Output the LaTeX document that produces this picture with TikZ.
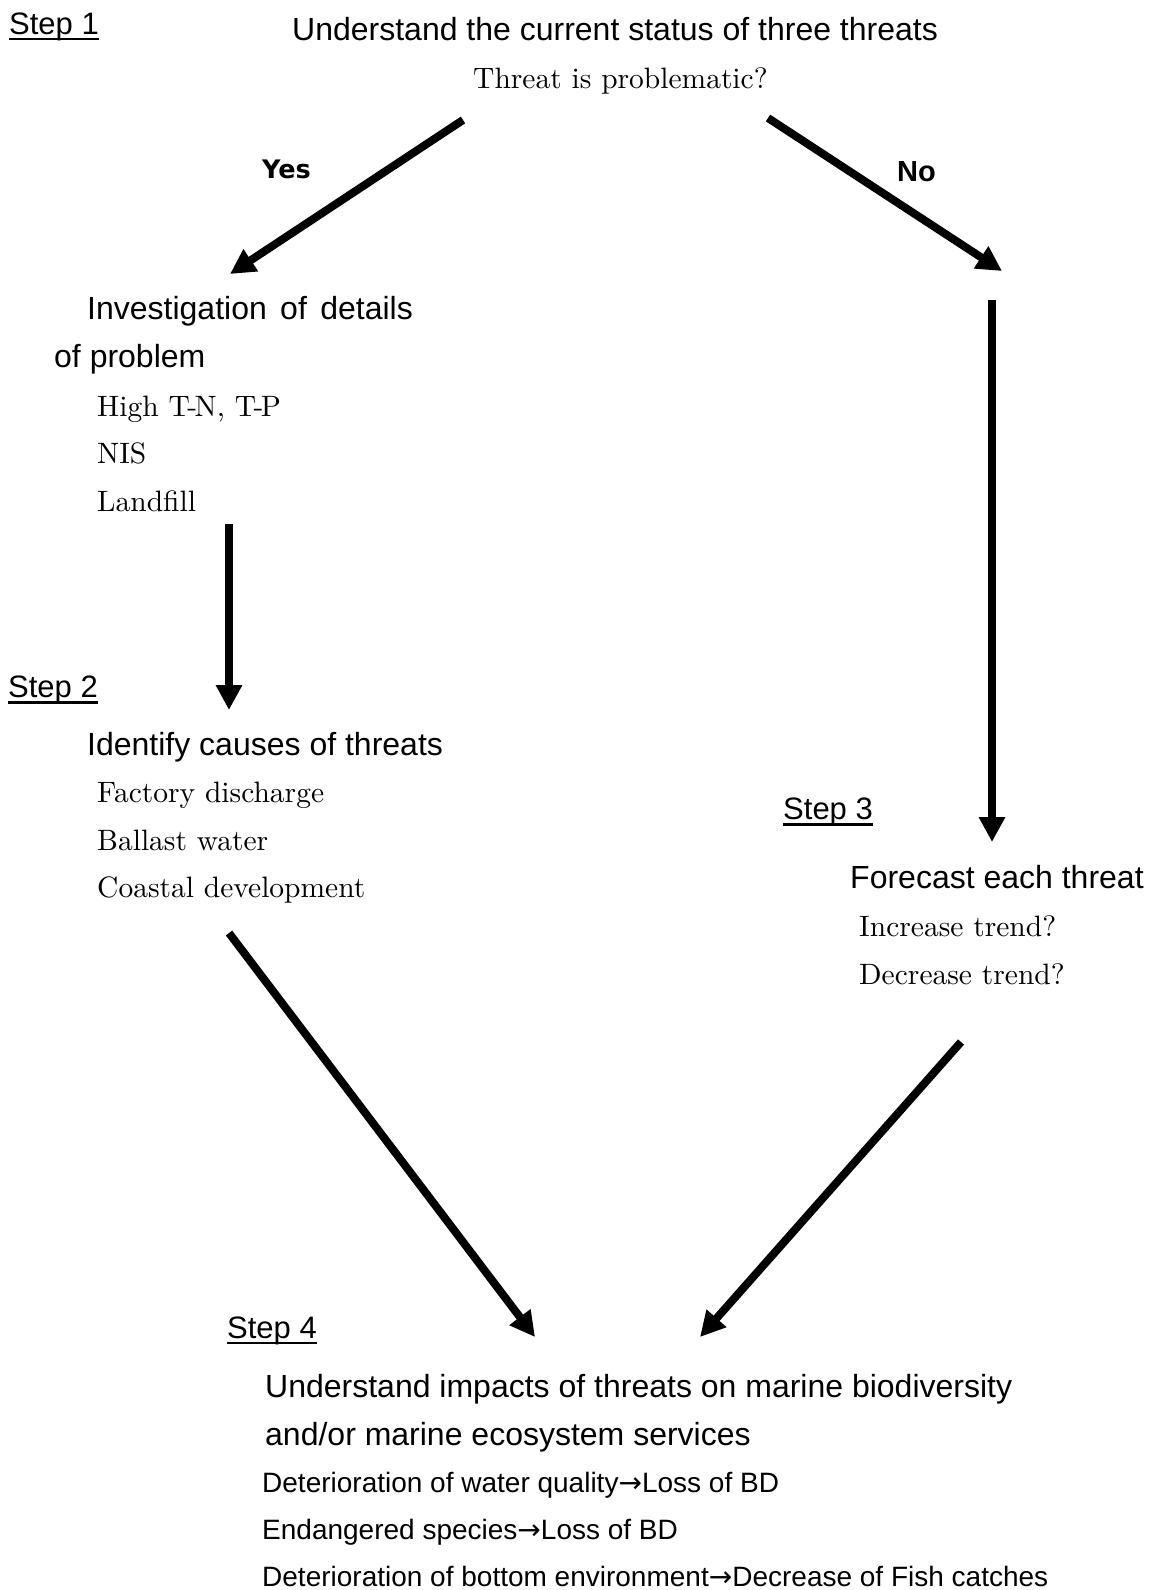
\documentclass[tikz,border=0pt]{standalone}
\usepackage{fontspec}
\newfontfamily\arialf{Liberation Sans}
\newfontfamily\dejavuf{DejaVu Sans}
\newfontfamily\cmf{lmroman10-regular}[Extension=.otf]
\usetikzlibrary{arrows.meta}
\newcommand{\rarr}{{\dejavuf →}}
\newcommand{\tdash}{\kern-2.5pt-\kern-2.5pt}
\tikzset{
  headtxt/.style={font=\arialf\fontsize{32}{32}\selectfont, anchor=base west, inner sep=0pt},
  itemtxt/.style={font=\cmf\fontsize{29.5}{29.5}\selectfont, anchor=base west, inner sep=0pt},
  steplbl/.style={font=\arialf\fontsize{31}{31}\selectfont, anchor=base west, inner sep=0pt},
  impacttxt/.style={font=\arialf\fontsize{28}{28}\selectfont, anchor=base west, inner sep=0pt},
  yestxt/.style={font=\dejavuf\bfseries\fontsize{25.5}{25.5}\selectfont, anchor=base west, inner sep=0pt},
  notxt/.style={font=\arialf\bfseries\fontsize{29}{29}\selectfont, anchor=base west, inner sep=0pt},
  flow/.style={line width=8pt, -{Triangle[length=25pt,width=25pt]}},
  uline/.style={line width=2.5pt},
}
\begin{document}
\begin{tikzpicture}[x=1pt,y=-1pt]
\useasboundingbox (0,0) rectangle (1149,1590);
% Step 1
\node[steplbl] (s1) at (9,34) {Step 1};
\draw[uline] ([yshift=-5pt]s1.base west) -- ([yshift=-5pt]s1.base east);
\node[headtxt] (h1) at (292,40) {Understand the current status of three threats};
\node[itemtxt] (q1) at (473,88) {Threat is problematic?};
\node[yestxt] (yes) at (262,178) {Yes};
\node[notxt] (no) at (897,181) {No};
% left branch
\node[headtxt] (inv1) at (87,319) {Investigation\hspace{4.5pt} of\hspace{4.5pt} details};
\node[headtxt] (inv2) at (54,367) {of problem};
\node[itemtxt] (i1) at (97,416) {High T\tdash N, T\tdash P};
\node[itemtxt] (i2) at (97,463) {NIS};
\node[itemtxt] (i3) at (97,511) {Landfill};
% Step 2
\node[steplbl] (s2) at (8,697) {Step 2};
\draw[uline] ([yshift=-5.5pt]s2.base west) -- ([yshift=-5.5pt]s2.base east);
\node[headtxt] (id) at (87,755) {Identify causes of threats};
\node[itemtxt] (c1) at (97,802) {Factory discharge};
\node[itemtxt] (c2) at (97,850) {Ballast water};
\node[itemtxt] (c3) at (97,897) {Coastal development};
% Step 3
\node[steplbl] (s3) at (783,819) {Step 3};
\draw[uline] ([yshift=-5.5pt]s3.base west) -- ([yshift=-5.5pt]s3.base east);
\node[headtxt] (fc) at (850,888) {Forecast each threat};
\node[itemtxt] (f1) at (859,936) {Increase trend?};
\node[itemtxt] (f2) at (859,984) {Decrease trend?};
% Step 4
\node[steplbl] (s4) at (227,1338) {Step 4};
\draw[uline] ([yshift=-5pt]s4.base west) -- ([yshift=-5pt]s4.base east);
\node[headtxt] (u1) at (265,1397) {Understand impacts of threats on marine biodiversity};
\node[headtxt] (u2) at (265,1445) {and/or marine ecosystem services};
\node[impacttxt] (d1) at (262,1492) {Deterioration of water quality\rarr Loss of BD};
\node[impacttxt] (d2) at (262,1539) {Endangered species\rarr Loss of BD};
\node[impacttxt] (d3) at (262,1586) {Deterioration of bottom environment\rarr Decrease of Fish catches};
% arrow end points
\coordinate (a1s) at (463,120);
\coordinate (a1e) at (230,274);
\coordinate (a2s) at (768,118);
\coordinate (a2e) at (1002,271);
\coordinate (a3s) at (229,524);
\coordinate (a3e) at (229,710);
\coordinate (a4s) at (992,300);
\coordinate (a4e) at (992,842);
\coordinate (a5s) at (229,933);
\coordinate (a5e) at (535,1337);
\coordinate (a6s) at (961,1042);
\coordinate (a6e) at (700,1337);
\draw[flow] (a1s) -- (a1e);
\draw[flow] (a2s) -- (a2e);
\draw[flow] (a3s) -- (a3e);
\draw[flow] (a4s) -- (a4e);
\draw[flow] (a5s) -- (a5e);
\draw[flow] (a6s) -- (a6e);
\end{tikzpicture}
\end{document}
